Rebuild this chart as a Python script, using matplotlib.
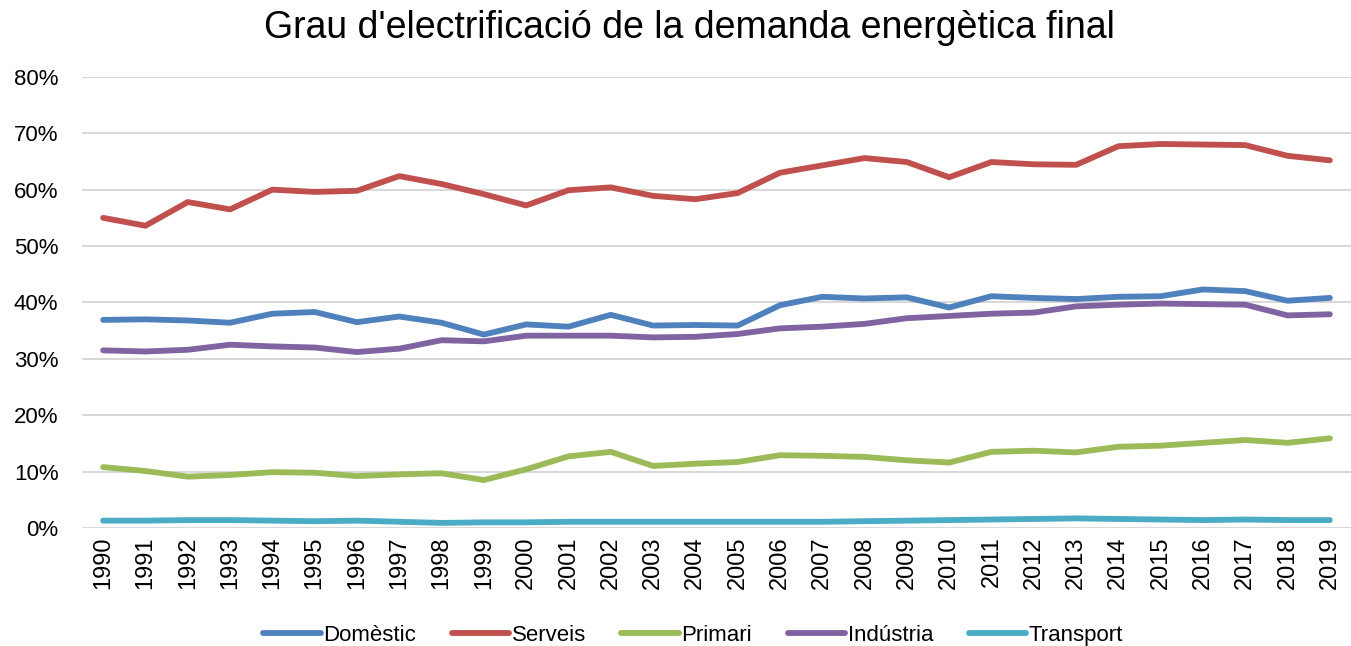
import numpy as np
import matplotlib
matplotlib.use('Agg')
import matplotlib.pyplot as plt
from matplotlib.ticker import PercentFormatter

plt.rcParams['font.family'] = ['Liberation Sans', 'DejaVu Sans']

years = list(range(1990, 2020))

domestic = [36.9, 37.0, 36.8, 36.4, 38.0, 38.3, 36.5, 37.5, 36.4, 34.3,
            36.1, 35.7, 37.8, 35.9, 36.0, 35.9, 39.5, 41.0, 40.7, 40.9,
            39.1, 41.1, 40.8, 40.6, 41.0, 41.1, 42.3, 42.0, 40.3, 40.8]
serveis = [55.0, 53.6, 57.8, 56.5, 60.0, 59.6, 59.8, 62.4, 61.0, 59.2,
           57.2, 59.9, 60.4, 58.9, 58.3, 59.4, 63.0, 64.3, 65.6, 64.9,
           62.2, 64.9, 64.5, 64.4, 67.7, 68.1, 68.0, 67.9, 66.0, 65.2]
primari = [10.8, 10.1, 9.1, 9.4, 9.9, 9.8, 9.2, 9.5, 9.7, 8.5,
           10.4, 12.7, 13.5, 11.0, 11.4, 11.7, 12.9, 12.8, 12.6, 12.0,
           11.6, 13.5, 13.7, 13.4, 14.4, 14.6, 15.1, 15.6, 15.1, 15.9]
industria = [31.5, 31.3, 31.6, 32.5, 32.2, 32.0, 31.2, 31.8, 33.3, 33.1,
             34.1, 34.1, 34.1, 33.8, 33.9, 34.4, 35.4, 35.7, 36.2, 37.2,
             37.6, 38.0, 38.2, 39.3, 39.6, 39.8, 39.7, 39.6, 37.7, 37.9]
transport = [1.3, 1.3, 1.4, 1.4, 1.3, 1.2, 1.3, 1.1, 0.9, 1.0,
             1.0, 1.1, 1.1, 1.1, 1.1, 1.1, 1.1, 1.1, 1.2, 1.3,
             1.4, 1.5, 1.6, 1.7, 1.6, 1.5, 1.4, 1.5, 1.4, 1.4]

series = [('Domèstic', domestic, '#4F81BD'),
          ('Serveis', serveis, '#C0504D'),
          ('Primari', primari, '#9BBB59'),
          ('Indústria', industria, '#8064A2'),
          ('Transport', transport, '#4BACC6')]

fig = plt.figure(figsize=(13.51, 6.46), dpi=100)
ax = fig.add_axes([0.0607, 0.1827, 0.9393, 0.6983])

for name, vals, col in series:
    ax.plot(years, np.array(vals) / 100, color=col, linewidth=4.2,
            solid_capstyle='round', label=name)

ax.set_ylim(0, 0.8)
ax.set_xlim(1989.5, 2019.5)
ax.set_yticks(np.arange(0, 0.81, 0.1))
ax.yaxis.set_major_formatter(PercentFormatter(1.0, decimals=0))
ax.set_xticks(years)
ax.set_xticklabels([str(y) for y in years], rotation=90)
ax.tick_params(axis='both', length=0, colors='black')
ax.tick_params(axis='y', pad=17, labelsize=16)
ax.tick_params(axis='x', pad=6, labelsize=17)
ax.grid(axis='y', color='#D9D9D9', linewidth=1.5)
ax.set_axisbelow(True)
for s in ax.spines.values():
    s.set_visible(False)

fig.suptitle("Grau d'electrificació de la demanda energètica final",
             fontsize=27, x=0.51, y=0.985)

fig.legend(loc='lower center', ncol=5, frameon=False, fontsize=16,
           bbox_to_anchor=(0.513, -0.031), handlelength=2.6,
           handletextpad=0.1, columnspacing=1.6)

fig.savefig('out.png', dpi=100)
